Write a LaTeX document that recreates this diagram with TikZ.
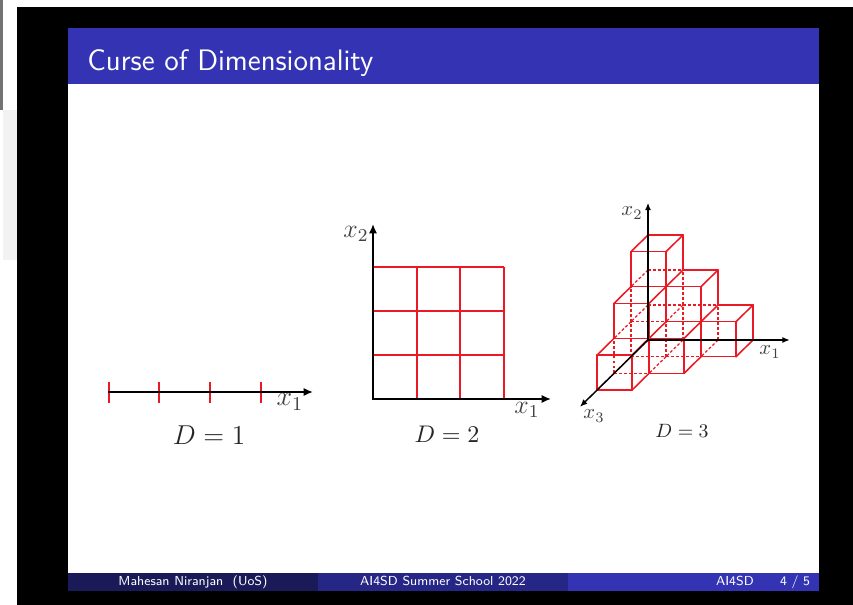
\RequirePackage{fix-cm}
\documentclass[tikz,border=0pt]{standalone}
\usepackage{fontspec}
\usetikzlibrary{arrows.meta}
\definecolor{beamerblue}{RGB}{51,51,179}
\definecolor{footdark}{RGB}{26,26,89}
\definecolor{footmid}{RGB}{38,38,134}
\definecolor{cubered}{RGB}{235,25,35}
\begin{document}
\begin{tikzpicture}[x=0.483pt,y=-0.483pt,
  axis/.style={black, line width=1pt, line join=miter, -{Latex[length=4.5pt,width=4pt]}},
  axisboth/.style={black, line width=1pt, line join=miter, {Latex[length=4.5pt,width=4pt]}-{Latex[length=4.5pt,width=4pt]}},
  axisthree/.style={black, line width=0.7pt, -{Latex[length=3.6pt,width=3pt]}},
  gridline/.style={cubered, line width=1pt},
  tickmark/.style={cubered, line width=1pt},
  visedge/.style={draw=cubered, line width=0.75pt, line cap=round},
  hiddenedge/.style={draw=cubered, line width=0.6pt, dash pattern=on 1.4pt off 1pt},
  lab/.style={text=black!75, inner sep=0pt},
  dlab/.style={text=black!85, inner sep=0pt},
  foot/.style={text=white, inner sep=0pt, anchor=base, font=\sffamily\fontsize{6.3}{7}\selectfont},
]
\useasboundingbox (0,0) rectangle (853,605);
% screen surround
\fill[white] (0,0) rectangle (853,605);
\fill[black!55] (0,0) rectangle (3,110);
\fill[black!5] (3,110) rectangle (17,260);
\fill[black] (17,7) rectangle (853,605);
% slide
\fill[white] (68,84) rectangle (819,573);
\fill[beamerblue] (68,28) rectangle (819,84);
\node[anchor=base west, text=white, inner sep=0pt, font=\sffamily\fontsize{14.3}{16}\selectfont] (title) at (87,71) {Curse of Dimensionality};
% footer
\fill[footdark] (68,573) rectangle (318,591);
\fill[footmid] (318,573) rectangle (568,591);
\fill[beamerblue] (568,573) rectangle (819,591);
\node[foot] (author) at (193,585) {Mahesan Niranjan~~(UoS)};
\node[foot] (event) at (443,585) {AI4SD Summer School 2022};
\node[foot] (short) at (735,585) {AI4SD};
\node[foot] (page) at (795,585) {4 / 5};

% ---------- D = 1 ----------
\foreach \t in {109,159,210,261} \draw[tickmark] (\t,382) -- (\t,403);
\coordinate (o1) at (108,392);
\coordinate (e1) at (313,392);
\draw[axis] (o1) -- (e1);
\node[lab, font=\fontsize{13.5}{15}\selectfont] (x1a) at (290,402) {$x_1$};
\node[dlab, font=\fontsize{13.2}{15}\selectfont] (d1) at (209,435) {$D = 1$};

% ---------- D = 2 ----------
\foreach \gx in {417,460,504} \draw[gridline] (\gx,267) -- (\gx,399);
\foreach \gy in {267,311,355} \draw[gridline] (373,\gy) -- (504,\gy);
\coordinate (o2) at (373,399);
\coordinate (t2) at (373,224);
\coordinate (r2) at (551,399);
\draw[axisboth] (t2) -- (o2) -- (r2);
\node[lab, font=\fontsize{12.5}{14}\selectfont] (x2b) at (356,234) {$x_2$};
\node[lab, font=\fontsize{12.5}{14}\selectfont] (x1b) at (527,410) {$x_1$};
\node[dlab, font=\fontsize{11.6}{14}\selectfont] (d2) at (447,434) {$D = 2$};

% ---------- D = 3 ----------
% cubes (a,b,c) with a+b+c <= 2; an edge with base point (p,q,r) is hidden iff p+q+r <= 2
\begin{scope}[shift={(648,340)}, x={(16.905pt,0pt)}, y={(0pt,16.905pt)}, z={(-8.211pt,-8.066pt)}]
  \foreach \p in {0,...,3}{\foreach \q in {0,...,3}{\foreach \r in {0,...,3}{
    \pgfmathtruncatemacro\hid{(\p+\q+\r<3)?1:0}
    \ifnum\hid=1 \def\es{hiddenedge}\else\def\es{visedge}\fi
    \pgfmathtruncatemacro\exa{\p+max(\q-1,0)+max(\r-1,0)}
    \pgfmathtruncatemacro\exb{\q+max(\p-1,0)+max(\r-1,0)}
    \pgfmathtruncatemacro\exc{\r+max(\p-1,0)+max(\q-1,0)}
    \ifnum\exa<3 \draw[\es] (\p,\q,\r) -- ++(1,0,0); \fi
    \ifnum\exb<3 \draw[\es] (\p,\q,\r) -- ++(0,1,0); \fi
    \ifnum\exc<3 \draw[\es] (\p,\q,\r) -- ++(0,0,1); \fi
  }}}
  \coordinate (o3) at (0,0,0);
  \coordinate (e31) at (4.05,0,0);
  \coordinate (e32) at (0,3.92,0);
  \coordinate (e33) at (0,0,4);
  \draw[axisthree] (o3) -- (e31);
  \draw[axisthree] (o3) -- (e32);
  \draw[axisthree] (o3) -- (e33);
\end{scope}
\node[lab, font=\fontsize{10}{12}\selectfont] (x2c) at (632,213) {$x_2$};
\node[lab, font=\fontsize{10}{12}\selectfont] (x1c) at (770,352) {$x_1$};
\node[lab, font=\fontsize{10}{12}\selectfont] (x3c) at (594,416) {$x_3$};
\node[dlab, font=\fontsize{9.3}{11}\selectfont] (d3) at (682,431) {$D = 3$};
\end{tikzpicture}
\end{document}
